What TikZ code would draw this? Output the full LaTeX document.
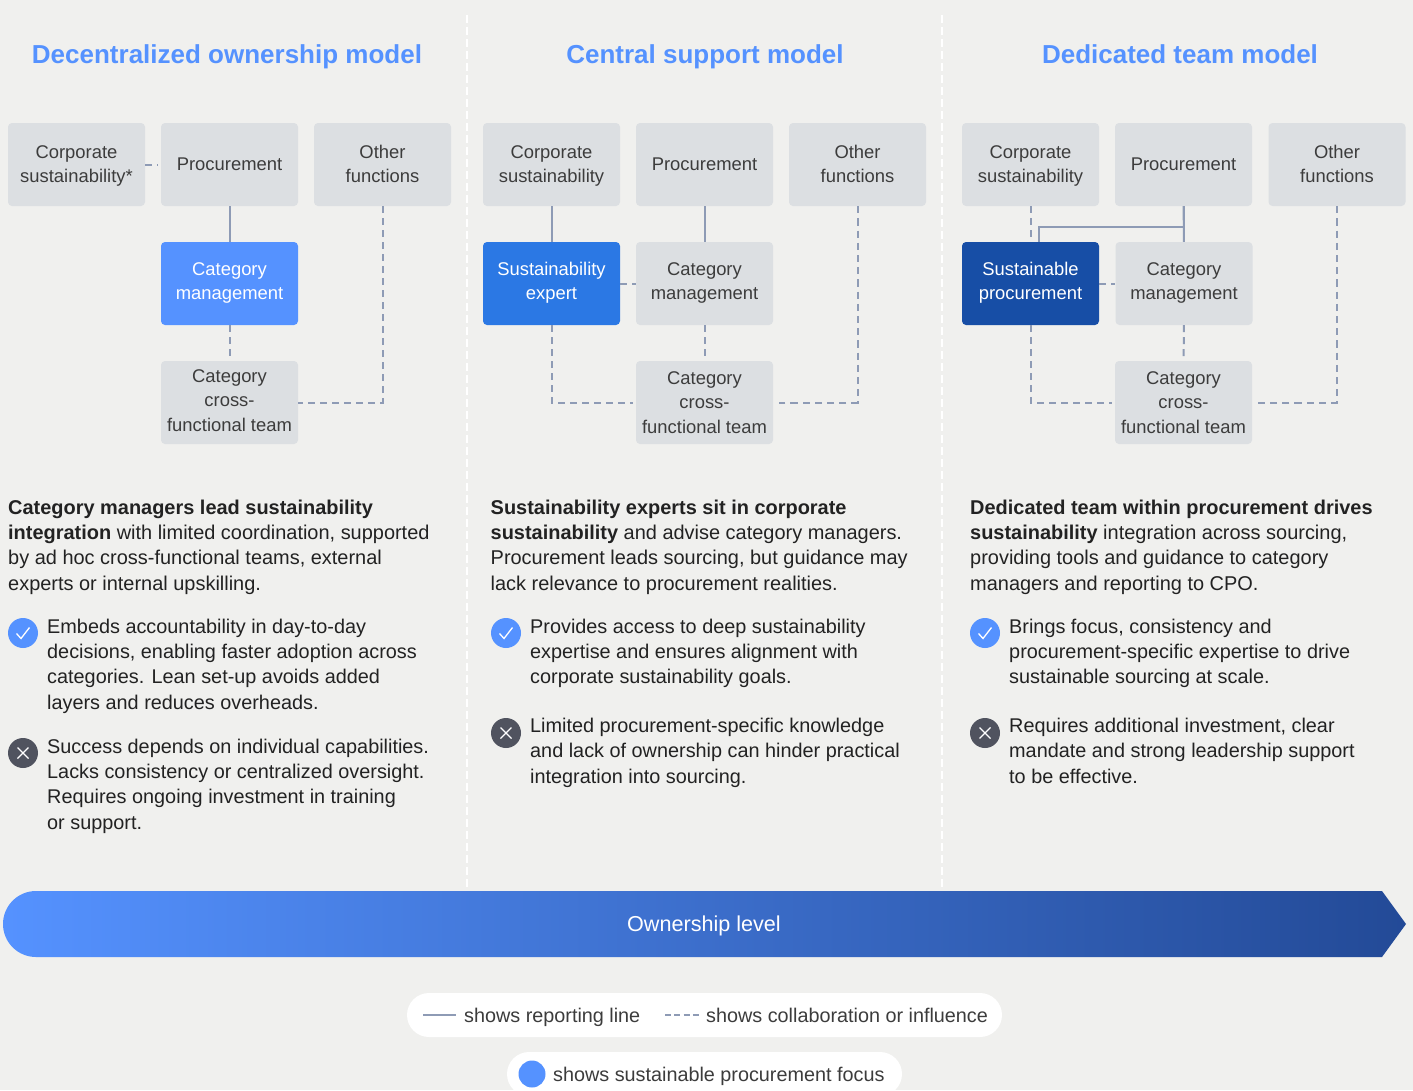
\documentclass[tikz,border=0pt]{standalone}
\usepackage{xcolor}
\usepackage{fontspec}
\setmainfont{Liberation Sans}
\usepackage{tikz}
\definecolor{pagebg}{HTML}{F0F0EE}
\definecolor{boxgray}{HTML}{DCDFE2}
\definecolor{linegray}{HTML}{8E9BB5}
\definecolor{lightblue}{HTML}{5592FF}
\definecolor{midblue}{HTML}{2B78E4}
\definecolor{darkblue}{HTML}{174EA6}
\definecolor{barend}{HTML}{234A97}
\definecolor{crossgray}{HTML}{50535F}
\definecolor{boxtext}{HTML}{3C3C3C}
\definecolor{bodytext}{HTML}{222222}
\newcommand{\upperlines}[2]{\rule{0pt}{16pt}#1\\#2\rule[-4pt]{0pt}{1pt}}
\newcommand{\midlines}[2]{\rule{0pt}{14pt}#1\\#2\rule[-6pt]{0pt}{1pt}}
\tikzset{
    unit/.style={minimum width=137pt, minimum height=83pt, inner sep=0pt, rounded corners=4pt, align=center, fill=boxgray, text=boxtext, font=\fontsize{18.4}{24.3}\selectfont},
    hilite/.style={unit, fill=#1, text=white},
    report/.style={linegray, line width=2pt},
    collab/.style={linegray, line width=2pt, dash pattern=on 7pt off 5pt},
    heading/.style={anchor=base, inner sep=0pt, text=lightblue, font=\fontsize{26}{30}\bfseries\selectfont},
    para/.style={anchor=north west, inner sep=0pt, align=left, text=bodytext, font=\fontsize{19.85}{25.4}\selectfont},
    lead/.style={para, font=\fontsize{19.95}{25.4}\selectfont},
    good/.style={circle, minimum size=30pt, inner sep=0pt, fill=lightblue},
    bad/.style={circle, minimum size=30pt, inner sep=0pt, fill=crossgray},
    mark line/.style={white, line width=1.3pt},
    pill/.style={fill=white, rounded corners=22pt},
    legend/.style={anchor=base west, inner sep=0pt, text=boxtext, font=\fontsize{19.8}{24}\selectfont}
}
\begin{document}
\begin{tikzpicture}[x=1pt, y=-1pt]
    \clip (0,0) rectangle (1413,1090);
    \fill[pagebg] (0,0) rectangle (1413,1090);
    \draw[white, line width=2pt, dash pattern=on 8pt off 4pt] (467,15) -- (467,888);
    \draw[white, line width=2pt, dash pattern=on 8pt off 4pt] (942,15) -- (942,888);

    \node[heading] (titlea) at (227,63.5) {Decentralized ownership model};
    \node[heading] (titleb) at (705,63.5) {Central support model};
    \node[heading] (titlec) at (1180,63.5) {Dedicated team model};

    \node[unit] (corpa) at (76.5,164.5) {\upperlines{Corporate}{sustainability*}};
    \node[unit] (proca) at (229.5,164.5) {Procurement};
    \node[unit] (othera) at (382.5,164.5) {\upperlines{Other}{functions}};
    \node[hilite=lightblue] (catma) at (229.5,283.5) {\midlines{Category}{management}};
    \node[unit] (teama) at (229.5,402.5) {Category\\cross-\\functional team\rule[-4pt]{0pt}{1pt}};
    \draw[report] (proca) -- (catma);
    \draw[collab, shorten >=3pt] (corpa) -- (proca);
    \draw[collab] (catma) -- (teama);
    \draw[collab] (othera) |- (teama);

    \node[unit] (corpb) at (551.5,164.5) {\upperlines{Corporate}{sustainability}};
    \node[unit] (procb) at (704.5,164.5) {Procurement};
    \node[unit] (otherb) at (857.5,164.5) {\upperlines{Other}{functions}};
    \node[hilite=midblue] (expertb) at (551.5,283.5) {\midlines{Sustainability}{expert}};
    \node[unit] (catmb) at (704.5,283.5) {\midlines{Category}{management}};
    \node[unit] (teamb) at (704.5,402.5) {Category\\cross-\\functional team};
    \draw[report] (corpb) -- (expertb);
    \draw[report] (procb) -- (catmb);
    \draw[collab] (expertb) -- (catmb);
    \draw[collab] (catmb) -- (teamb);
    \draw[collab, shorten >=3pt] (expertb) |- (teamb);
    \draw[collab, shorten >=6pt, dash pattern=on 7.2pt off 5pt] (otherb) |- (teamb);

    \node[unit] (corpc) at (1030.5,164.5) {\upperlines{Corporate}{sustainability}};
    \node[unit] (procc) at (1183.5,164.5) {Procurement};
    \node[unit] (otherc) at (1337,164.5) {\upperlines{Other}{functions}};
    \node[hilite=darkblue] (sustc) at (1030.5,283.5) {\midlines{Sustainable}{procurement}};
    \node[unit] (catmc) at (1184,283.5) {\midlines{Category}{management}};
    \node[unit] (teamc) at (1183.5,402.5) {Category\\cross-\\functional team};
    \coordinate (joinc) at (1039,227);
    \draw[collab] (corpc) -- (sustc);
    \draw[report] (procc) -- (catmc);
    \draw[report] (procc.south) |- (joinc) -- (joinc |- sustc.north);
    \draw[collab] (sustc) -- (catmc);
    \draw[collab] (catmc) -- (teamc);
    \draw[collab, shorten >=3pt] (sustc) |- (teamc);
    \draw[collab, shorten >=6pt, dash pattern=on 7.2pt off 5pt] (otherc) |- (teamc);

    \node[lead] (texta) at (8,499.5) {\textbf{Category managers lead sustainability}\\\textbf{integration} with limited coordination, supported\\by ad hoc cross-functional teams, external\\experts or internal upskilling.};
    \node[lead] (textb) at (490.5,499.5) {\textbf{Sustainability experts sit in corporate}\\\textbf{sustainability} and advise category managers.\\Procurement leads sourcing, but guidance may\\lack relevance to procurement realities.};
    \node[lead] (textc) at (970,499.5) {\textbf{Dedicated team within procurement drives}\\\textbf{sustainability} integration across sourcing,\\providing tools and guidance to category\\managers and reporting to CPO.};

    \node[good] (gooda) at (23,633) {};
    \node[para] (prosa) at (47,618.5) {Embeds accountability in day-to-day\\decisions, enabling faster adoption across\\categories. Lean set-up avoids added\\layers and reduces overheads.};
    \node[bad] (bada) at (23,753) {};
    \node[para] (consa) at (47,738.5) {Success depends on individual capabilities.\\Lacks consistency or centralized oversight.\\Requires ongoing investment in training\\or support.};

    \node[good] (goodb) at (506,633) {};
    \node[para] (prosb) at (530,618.5) {Provides access to deep sustainability\\expertise and ensures alignment with\\corporate sustainability goals.};
    \node[bad] (badb) at (506,733) {};
    \node[para] (consb) at (530,717.8) {Limited procurement-specific knowledge\\and lack of ownership can hinder practical\\integration into sourcing.};

    \node[good] (goodc) at (985,633) {};
    \node[para] (prosc) at (1009,618.5) {Brings focus, consistency and\\procurement-specific expertise to drive\\sustainable sourcing at scale.};
    \node[bad] (badc) at (985,733) {};
    \node[para] (consc) at (1009,717.8) {Requires additional investment, clear\\mandate and strong leadership support\\to be effective.};

    \foreach \n in {gooda,goodb,goodc} {
        \draw[mark line] ([shift={(-6.5,0.5)}]\n.center) -- ([shift={(-2,5.5)}]\n.center) -- ([shift={(6.5,-5.5)}]\n.center);
    }
    \foreach \n in {bada,badb,badc} {
        \draw[mark line] ([shift={(-5.5,-5.5)}]\n.center) -- ([shift={(5.5,5.5)}]\n.center);
        \draw[mark line] ([shift={(-5.5,5.5)}]\n.center) -- ([shift={(5.5,-5.5)}]\n.center);
    }

    \shade[left color=lightblue, right color=barend] (1382,891) -- (1406,924) -- (1382,957) -- (36,957) arc (90:270:33) -- cycle;
    \node[legend, anchor=base, text=white, font=\fontsize{21.6}{24}\selectfont] (barlabel) at (704,931.5) {Ownership level};

    \fill[pill] (407,993) rectangle (1002,1037);
    \fill[pill] (507,1052) rectangle (902,1096);
    \coordinate (repa) at (423,1015);
    \coordinate (repb) at (456,1015);
    \coordinate (cola) at (665,1015);
    \coordinate (colb) at (699,1015);
    \draw[report, line width=1.5pt] (repa) -- (repb);
    \draw[collab, line width=1.3pt, dash pattern=on 6pt off 3.33pt] (cola) -- (colb);
    \node[legend] (repnote) at (464,1022) {shows reporting line};
    \node[legend] (colnote) at (706,1022) {shows collaboration or influence};
    \node[good, minimum size=27pt] (focusdot) at (532,1074) {};
    \node[legend] (focusnote) at (553,1081) {shows sustainable procurement focus};
\end{tikzpicture}
\end{document}
